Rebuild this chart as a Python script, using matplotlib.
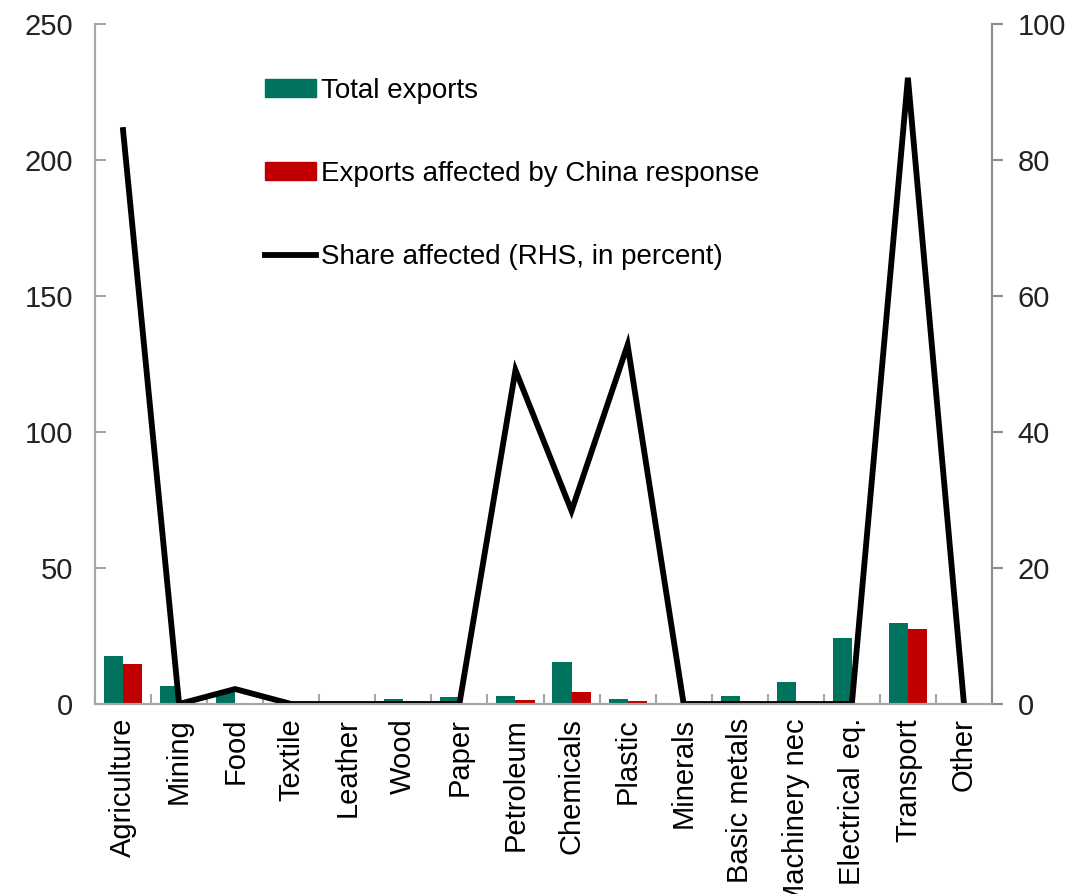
import matplotlib.pyplot as plt
import numpy as np
from matplotlib.patches import Patch
from matplotlib.lines import Line2D

plt.rcParams['font.family'] = ['Liberation Sans Narrow', 'Liberation Sans', 'DejaVu Sans']

sectors = ["Agriculture", "Mining", "Food", "Textile", "Leather", "Wood", "Paper",
           "Petroleum", "Chemicals", "Plastic", "Minerals", "Basic metals",
           "Machinery nec", "Electrical eq.", "Transport", "Other"]
total_exports = [17.5, 6.5, 4.5, 0.3, 0.1, 1.7, 2.6, 3.1, 15.6, 1.9, 0.5, 3.0, 8.2, 24.4, 29.9, 0.5]
affected = [14.8, 0, 0, 0, 0, 0, 0, 1.5, 4.3, 1.0, 0, 0, 0, 0, 27.4, 0]
share = [84.4, 0, 2.2, 0, 0, 0, 0, 49.1, 28.4, 52.8, 0, 0, 0, 0, 92.1, 0]

green = "#00735F"
red = "#C00000"
grey = "#A6A6A6"

fig = plt.figure(figsize=(10.89, 8.94), dpi=100)
ax = fig.add_axes([95/1089, 1-704/894, (992-95)/1089, 680/894])
ax2 = ax.twinx()

x = np.arange(len(sectors))
w = 0.34
ax.bar(x - w/2, total_exports, w, color=green)
ax.bar(x + w/2, affected, w, color=red)
ax2.plot(x, share, color="black", lw=4.2, solid_joinstyle="miter")

ax.set_xlim(-0.5, len(sectors) - 0.5)
ax.set_ylim(0, 250)
ax2.set_ylim(0, 100)
ax.set_yticks(range(0, 251, 50))
ax2.set_yticks(range(0, 101, 20))

ax.set_xticks(np.arange(len(sectors) + 1) - 0.5, minor=False)
ax.set_xticklabels([])
ax.set_xticks(x, minor=True)
ax.set_xticklabels(sectors, minor=True, rotation=90, fontsize=21, ha="center", va="top")
ax.tick_params(axis="x", which="major", direction="in", length=7, color=grey, width=1.5)
ax.tick_params(axis="x", which="minor", length=0, pad=10)

for a in (ax, ax2):
    a.spines["top"].set_visible(False)
    for s in ("left", "right", "bottom"):
        a.spines[s].set_color(grey)
        a.spines[s].set_linewidth(1.5)
ax2.spines["right"].set_color("#8C8C8C")
ax.tick_params(axis="y", direction="in", length=8, color=grey, width=1.5, labelsize=21,
               labelcolor="#222222", pad=16)
ax2.tick_params(axis="y", direction="out", length=8, color="#8C8C8C", width=1.5, labelsize=21,
                labelcolor="#222222", pad=10.5)

handles = [Patch(color=green), Patch(color=red),
           Line2D([], [], color="black", lw=4.2)]
labels = ["Total exports", "Exports affected by China response", "Share affected (RHS, in percent)"]
fig.legend(handles, labels, loc="upper left", bbox_to_anchor=(265/1089, 1-78/894),
           frameon=False, fontsize=20, handlelength=1.85, handleheight=0.6,
           handletextpad=0.15, labelspacing=2.05, borderpad=0, borderaxespad=0)

fig.savefig("out.png", dpi=100)
